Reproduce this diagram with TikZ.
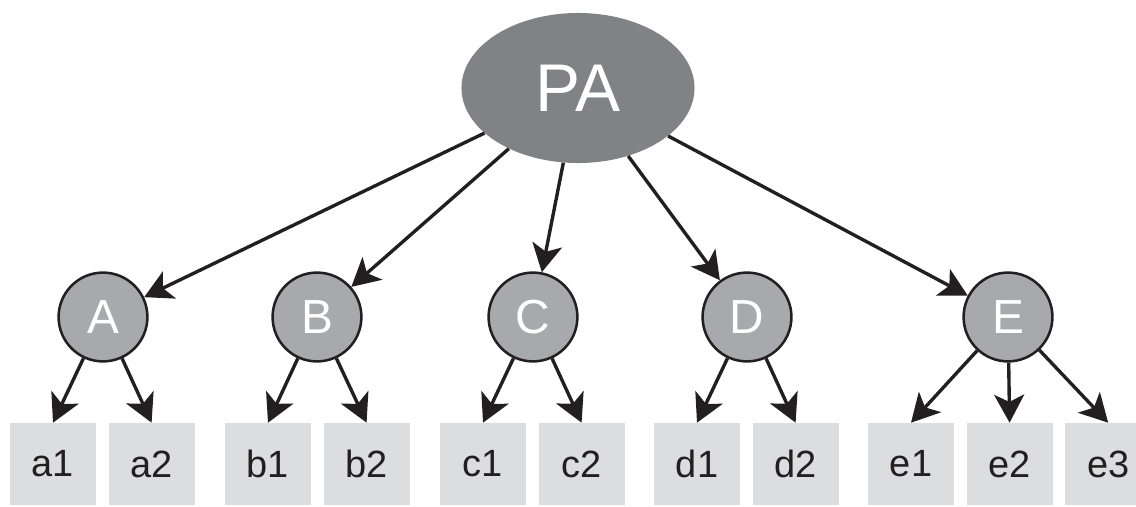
\documentclass[tikz,border=0pt]{standalone}
\usepackage{fontspec}
\setmainfont{Liberation Sans}
\usetikzlibrary{shapes.geometric,arrows.meta,positioning}
\definecolor{pagray}{HTML}{808285}
\definecolor{nodegray}{HTML}{A7A9AC}
\definecolor{leafgray}{HTML}{DCDDDE}
\definecolor{inkblack}{HTML}{231F20}

\begin{document}
\begin{tikzpicture}[
    x=0.025cm, y=-0.025cm,
    root/.style={ellipse, fill=pagray, text=white, minimum width=5.825cm, minimum height=3.75cm, inner sep=0pt, font=\fontsize{48}{50}\selectfont},
    parent/.style={circle, draw=inkblack, line width=1.8pt, fill=nodegray, text=white, minimum size=2.22cm, inner sep=0pt, font=\fontsize{34}{36}\selectfont},
    leaf/.style={rectangle, fill=leafgray, text=inkblack, minimum width=2.15cm, minimum height=2.05cm, inner sep=0pt, font=\fontsize{27}{30}\selectfont},
    arrow/.style={line width=2.4pt, draw=inkblack, -{Stealth[length=0.7cm, width=0.75cm, inset=0.18cm]}}
]
    \useasboundingbox (0,0) rectangle (1136,506);

    \node (pa) [root] at (578,88) {PA};

    \node (a) [parent] at (103,317) {A};
    \node (b) [parent] at (317,317) {B};
    \node (c) [parent] at (533,317) {C};
    \node (d) [parent] at (747,317) {D};
    \node (e) [parent] at (1008,317) {E};

    \node (a1) [leaf] at (53,464) {a1};
    \node (a2) [leaf, right=0.3cm of a1] {a2};
    \node (b1) [leaf] at (268,464) {b1};
    \node (b2) [leaf, right=0.3cm of b1] {b2};
    \node (c1) [leaf] at (483,464) {c1};
    \node (c2) [leaf, right=0.3cm of c1] {c2};
    \node (d1) [leaf] at (697,464) {d1};
    \node (d2) [leaf, right=0.3cm of d1] {d2};
    \node (e1) [leaf] at (911,464) {e1};
    \node (e2) [leaf, right=0.3cm of e1] {e2};
    \node (e3) [leaf, right=0.3cm of e2] {e3};

    \foreach \x in {a,b,c,d,e}
        \draw [arrow] (pa) -- (\x);

    \draw [arrow] (a) -- (a1.north);
    \draw [arrow] (a) -- (a2.north);
    \draw [arrow] (b) -- (b1.north);
    \draw [arrow] (b) -- (b2.north);
    \draw [arrow] (c) -- (c1.north);
    \draw [arrow] (c) -- (c2.north);
    \draw [arrow] (d) -- (d1.north);
    \draw [arrow] (d) -- (d2.north);
    \draw [arrow] (e) -- (e1.north);
    \draw [arrow] (e) -- (e2.north);
    \draw [arrow] (e) -- (e3.north);
\end{tikzpicture}
\end{document}
